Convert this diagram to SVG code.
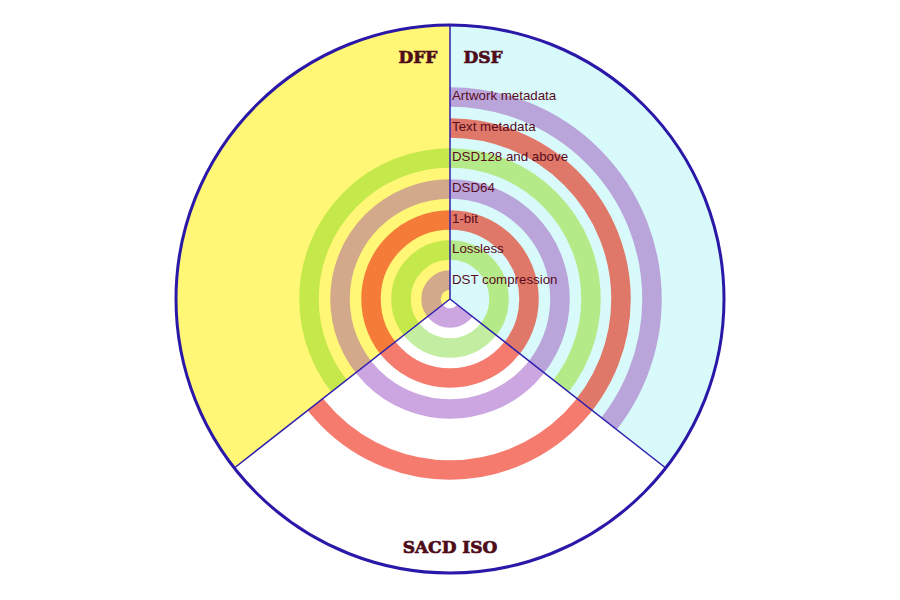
<svg xmlns="http://www.w3.org/2000/svg" width="900" height="600" viewBox="0 0 900 600">
<style>
.ring{fill:none;stroke-width:19.5}
.title{font-family:"DejaVu Serif","Liberation Serif",serif;font-weight:bold;font-size:17px;fill:#4e0c18;stroke:#4e0c18;stroke-width:0.7}
.lbl{font-family:"Liberation Sans",Arial,sans-serif;font-size:13.3px;fill:#5a0b1e}
.edge{stroke:#2e1fae;stroke-width:1.5;fill:none}
</style>
<defs>
<clipPath id="cDFF"><path d="M450,299 L450,25 A274,274 0 0 0 234.3,468 Z"/></clipPath>
<clipPath id="cDSF"><path d="M450,299 L450,25 A274,274 0 0 1 665.7,468 Z"/></clipPath>
<clipPath id="cSACD"><path d="M450,299 L234.3,468 A274,274 0 0 0 665.7,468 Z"/></clipPath>
</defs>
<rect width="900" height="600" fill="#ffffff"/>
<g id="dff">
<path d="M450,299 L450,25 A274,274 0 0 0 234.3,468 Z" fill="#fff775"/>
<g clip-path="url(#cDFF)">
<circle class="ring" cx="450" cy="299" r="19" stroke="#d3a98b"/>
<circle class="ring" cx="450" cy="299" r="49" stroke="#c5e84b"/>
<circle class="ring" cx="450" cy="299" r="79" stroke="#f47b38"/>
<circle class="ring" cx="450" cy="299" r="110" stroke="#d3a98b"/>
<circle class="ring" cx="450" cy="299" r="141" stroke="#c5e84b"/>
</g>
<text class="title" x="418" y="63" text-anchor="middle">DFF</text>
</g>
<g id="dsf">
<path d="M450,299 L450,25 A274,274 0 0 1 665.7,468 Z" fill="#d9fafa"/>
<g clip-path="url(#cDSF)">
<circle class="ring" cx="450" cy="299" r="49" stroke="#b5ea88"/>
<circle class="ring" cx="450" cy="299" r="79" stroke="#df7868"/>
<circle class="ring" cx="450" cy="299" r="110" stroke="#b9a5da"/>
<circle class="ring" cx="450" cy="299" r="141" stroke="#b5ea88"/>
<circle class="ring" cx="450" cy="299" r="171" stroke="#df7868"/>
<circle class="ring" cx="450" cy="299" r="202" stroke="#b9a5da"/>
</g>
<text class="title" x="483" y="63" text-anchor="middle">DSF</text>
</g>
<g id="sacd">
<path d="M450,299 L234.3,468 A274,274 0 0 0 665.7,468 Z" fill="#ffffff"/>
<g clip-path="url(#cSACD)">
<circle class="ring" cx="450" cy="299" r="19" stroke="#cca6e0"/>
<circle class="ring" cx="450" cy="299" r="49" stroke="#c3eda0"/>
<circle class="ring" cx="450" cy="299" r="79" stroke="#f47b6e"/>
<circle class="ring" cx="450" cy="299" r="110" stroke="#cca6e0"/>
<circle class="ring" cx="450" cy="299" r="171" stroke="#f47b6e"/>
</g>
<text class="title" x="450" y="553" text-anchor="middle">SACD ISO</text>
</g>
<g id="connectors">
<path class="edge" d="M450,25 L450,299 L234.3,468 M450,299 L665.7,468"/>
<circle cx="450" cy="299" r="274" fill="none" stroke="#2a18a8" stroke-width="3"/>
</g>
<g id="labels">
<text class="lbl" x="452" y="100">Artwork metadata</text>
<text class="lbl" x="452" y="131">Text metadata</text>
<text class="lbl" x="452" y="161">DSD128 and above</text>
<text class="lbl" x="452" y="192">DSD64</text>
<text class="lbl" x="452" y="223">1-bit</text>
<text class="lbl" x="452" y="253">Lossless</text>
<text class="lbl" x="452" y="284">DST compression</text>
</g>
</svg>
